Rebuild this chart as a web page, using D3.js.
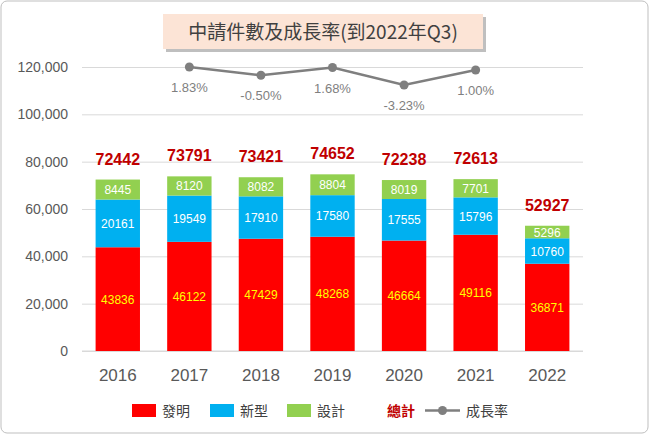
<!DOCTYPE html><html><head><meta charset="utf-8">
<script src="https://cdn.jsdelivr.net/npm/d3@7"></script>
<style>body{margin:0;background:#fff}text{font-family:"Noto Sans CJK TC","Liberation Sans",Arial,sans-serif}</style></head><body>
<svg id="c" width="649" height="434"></svg>
<script>
const years=["2016","2017","2018","2019","2020","2021","2022"];
const invention=[43836,46122,47429,48268,46664,49116,36871];
const utility=[20161,19549,17910,17580,17555,15796,10760];
const design=[8445,8120,8082,8804,8019,7701,5296];
const totals=[72442,73791,73421,74652,72238,72613,52927];
const growthYears=["2017","2018","2019","2020","2021"];
const growth=[1.83,-0.50,1.68,-3.23,1.00];
const yTicks=[0,20000,40000,60000,80000,100000,120000];

const svg=d3.select("#c");
svg.append("rect").attr("x",1).attr("y",1).attr("width",647).attr("height",432).attr("rx",6).attr("fill","#fff").attr("stroke","#bfbfbf");
const x=d3.scaleBand().domain(years).range([82,583]).paddingInner(0.38).paddingOuter(0.19);
const y=d3.scaleLinear().domain([0,120000]).range([351,67]);
const yg=d3.scaleLinear().domain([-3.23,1.83]).range([85,67]);
const ax=svg.append("g").attr("transform","translate(82,0)").call(d3.axisLeft(y).tickValues(yTicks).tickSize(-501).tickPadding(14));
ax.select(".domain").remove();
ax.selectAll("line").attr("stroke","#d9d9d9");
ax.selectAll("text").attr("fill","#595959").style("font-size","14px").style("font-family","Liberation Sans,Arial");
svg.append("line").attr("x1",82).attr("x2",583).attr("y1",351).attr("y2",351).attr("stroke","#d9d9d9");
const xa=svg.append("g").attr("transform","translate(0,351)").call(d3.axisBottom(x).tickSize(0).tickPadding(18));
xa.select(".domain").remove();
xa.selectAll("text").attr("fill","#595959").style("font-size","17px").style("font-family","Liberation Sans,Arial");

const series=[{v:invention,c:"#ff0000",t:"#ffff00"},{v:utility,c:"#00b0f0",t:"#fff"},{v:design,c:"#92d050",t:"#fff"}];
years.forEach((yr,i)=>{
  let base=0;
  series.forEach(s=>{
    const v=s.v[i];
    svg.append("rect").attr("x",x(yr)).attr("width",x.bandwidth()).attr("y",y(base+v)).attr("height",y(base)-y(base+v)).attr("fill",s.c);
    svg.append("text").attr("x",x(yr)+x.bandwidth()/2).attr("y",(y(base)+y(base+v))/2+4.5).attr("text-anchor","middle").attr("fill",s.t).style("font-size","12px").style("font-family","Liberation Sans,Arial").text(v);
    base+=v;
  });
  svg.append("text").attr("x",x(yr)+x.bandwidth()/2).attr("y",y(totals[i])-15).attr("text-anchor","middle").attr("fill","#c00000").attr("font-weight","bold").style("font-size","16px").style("font-family","Liberation Sans,Arial").text(totals[i]);
});
const cx=d=>x(d)+x.bandwidth()/2;
svg.append("path").datum(growth).attr("fill","none").attr("stroke","#7f7f7f").attr("stroke-width",2.5)
 .attr("d",d3.line().x((d,i)=>cx(growthYears[i])).y(d=>yg(d)));
growth.forEach((g,i)=>{
  svg.append("circle").attr("cx",cx(growthYears[i])).attr("cy",yg(g)).attr("r",4.5).attr("fill","#7f7f7f");
  svg.append("text").attr("x",cx(growthYears[i])).attr("y",yg(g)+25).attr("text-anchor","middle").attr("fill","#7f7f7f").style("font-size","13px").style("font-family","Liberation Sans,Arial").text(g.toFixed(2)+"%");
});
// title
svg.append("rect").attr("x",166).attr("y",17).attr("width",320).attr("height",35).attr("fill","#bfbfbf");
svg.append("rect").attr("x",163).attr("y",14).attr("width",320).attr("height",35).attr("fill","#fce4d6");
svg.append("text").attr("x",323).attr("y",39).attr("text-anchor","middle").attr("fill","#404040").style("font-size","19px").text("中請件數及成長率(到2022年Q3)");
// legend
const lg=svg.append("g");
[["#ff0000","發明",132],["#00b0f0","新型",210],["#92d050","設計",287]].forEach(([c,t,lx])=>{
  lg.append("rect").attr("x",lx).attr("y",404).attr("width",24).attr("height",13).attr("fill",c);
  lg.append("text").attr("x",lx+30).attr("y",416).attr("fill","#404040").style("font-size","14px").text(t);
});
lg.append("text").attr("x",387).attr("y",416).attr("fill","#c00000").attr("font-weight","bold").style("font-size","14px").text("總計");
lg.append("line").attr("x1",425).attr("x2",460).attr("y1",410.5).attr("y2",410.5).attr("stroke","#7f7f7f").attr("stroke-width",2.5);
lg.append("circle").attr("cx",442.5).attr("cy",410.5).attr("r",4.5).attr("fill","#7f7f7f");
lg.append("text").attr("x",466).attr("y",416).attr("fill","#404040").style("font-size","14px").text("成長率");
</script></body></html>
